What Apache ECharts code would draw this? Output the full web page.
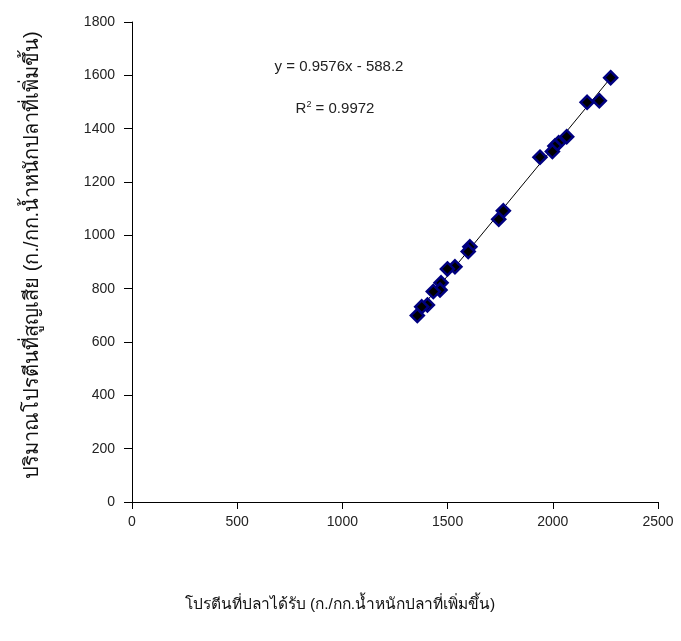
<!DOCTYPE html>
<html>
<head>
<meta charset="utf-8">
<script src="https://cdn.jsdelivr.net/npm/echarts@6/dist/echarts.min.js"></script>
<style>html,body{margin:0;padding:0;background:#fff}#c{width:681px;height:641px}</style>
</head>
<body>
<div id="c"></div>
<script>
// Data
const proteinReceived = [2275, 2163, 2221, 2066, 2028, 2010, 1998, 1939, 1765, 1743, 1606, 1598, 1535, 1499, 1469, 1464, 1432, 1404, 1377, 1356];
const proteinLost     = [1591, 1499, 1505, 1370, 1347, 1335, 1314, 1293, 1092, 1060, 957, 939, 882, 874, 822, 795, 789, 739, 732, 699];
const slope = 0.9576;
const intercept = -588.2;
const equationText = 'y = 0.9576x - 588.2';
const r2Value = '0.9972';
const xTitle = 'โปรตีนที่ปลาได้รับ (ก./กก.น้ำหนักปลาที่เพิ่มขึ้น)';
const yTitle = 'ปริมาณโปรตีนที่สูญเสีย (ก./กก.น้ำหนักปลาที่เพิ่มขึ้น)';

const points = proteinReceived.map((x, i) => [x, proteinLost[i]]);
const xMin = Math.min(...proteinReceived), xMax = Math.max(...proteinReceived);
const trend = [[xMin, slope * xMin + intercept], [xMax, slope * xMax + intercept]];

const chart = echarts.init(document.getElementById('c'), null, {renderer: 'canvas'});
const FONT = 'Liberation Sans, Arial, sans-serif';
const labelFont = {fontFamily: FONT, fontSize: 14, color: '#222', formatter: v => String(v)};
chart.setOption({
  animation: false,
  backgroundColor: '#fff',
  grid: {left: 132, right: 23, top: 22, bottom: 139},
  xAxis: {
    type: 'value', min: 0, max: 2500, interval: 500,
    axisLine: {show: true, lineStyle: {color: '#000', width: 1}},
    axisTick: {show: true, length: 7, lineStyle: {color: '#000'}},
    axisLabel: Object.assign({margin: 13}, labelFont),
    splitLine: {show: false}
  },
  yAxis: {
    type: 'value', min: 0, max: 1800, interval: 200,
    axisLine: {show: true, lineStyle: {color: '#000', width: 1}},
    axisTick: {show: true, length: 8, lineStyle: {color: '#000'}},
    axisLabel: Object.assign({margin: 17}, labelFont),
    splitLine: {show: false},
    name: yTitle, nameLocation: 'middle', nameGap: 90,
    nameTextStyle: {fontSize: 20, color: '#111', fontFamily: 'sans-serif', padding: [0, 0, 0, 14]}
  },
  graphic: [
    {type: 'text', position: [340, 597], style: {text: xTitle, fontSize: 15.5, fill: '#111', fontFamily: 'sans-serif', textAlign: 'center'}},
    {type: 'text', position: [339, 59], style: {text: equationText, fontSize: 15, fill: '#222', fontFamily: FONT, textAlign: 'center'}},
    {type: 'text', position: [335, 100], style: {
      rich: {
        b: {fontSize: 15, fill: '#222', fontFamily: FONT},
        sup: {fontSize: 9, fill: '#222', fontFamily: FONT, verticalAlign: 'top', padding: [0, 0, 9, 0]}
      },
      text: '{b|R}{sup|2}{b| = ' + r2Value + '}', textAlign: 'center'}}
  ],
  series: [
    {
      type: 'line', data: trend, symbol: 'none', silent: true,
      lineStyle: {color: '#000', width: 1}, z: 1
    },
    {
      type: 'scatter', data: points, symbol: 'diamond', symbolSize: 13,
      itemStyle: {color: '#000', borderColor: '#000080', borderWidth: 2.5, opacity: 1}, z: 2
    }
  ]
});
</script>
</body>
</html>
